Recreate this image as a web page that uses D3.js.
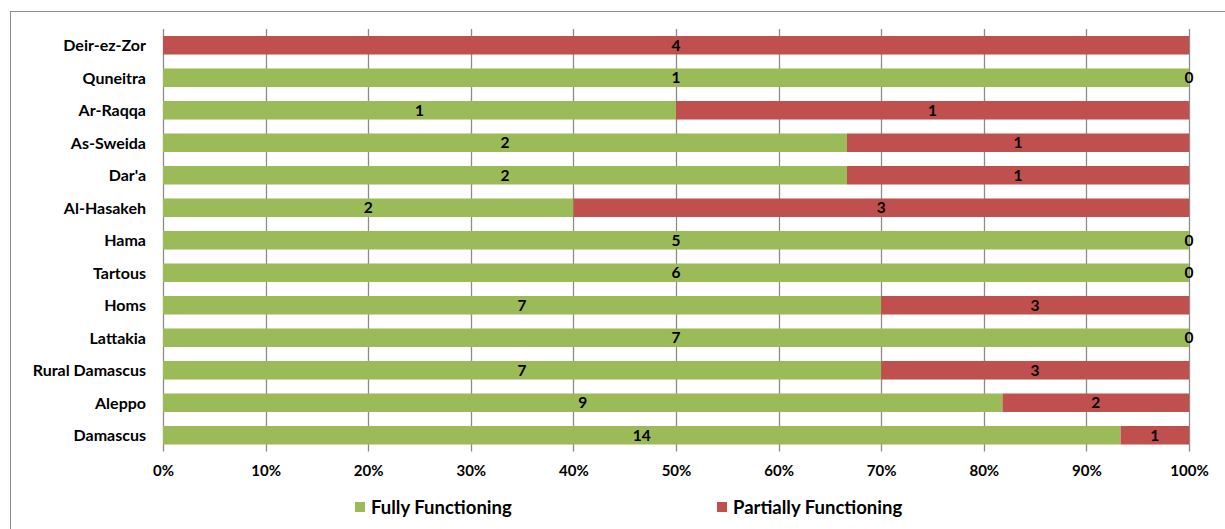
<!DOCTYPE html>
<html>
<head>
<meta charset="utf-8">
<script src="https://cdn.jsdelivr.net/npm/d3@7"></script>
<style>
  html, body { margin: 0; padding: 0; background: #fff; }
  svg { display: block; }
  text { font-family: Lato, "Open Sans", sans-serif; font-weight: bold; fill: #000; }
</style>
</head>
<body>
<svg id="chart" width="1225" height="529"></svg>
<script>
// Governorates, top to bottom
const governorates = ["Deir-ez-Zor", "Quneitra", "Ar-Raqqa", "As-Sweida", "Dar'a", "Al-Hasakeh",
  "Hama", "Tartous", "Homs", "Lattakia", "Rural Damascus", "Aleppo", "Damascus"];
// Counts of facilities per status
const fullyFunctioning     = [0, 1, 1, 2, 2, 2, 5, 6, 7, 7, 7, 9, 14];
const partiallyFunctioning = [4, 0, 1, 1, 1, 3, 0, 0, 3, 0, 3, 2, 1];
const seriesNames = ["Fully Functioning", "Partially Functioning"];
const seriesColors = ["#9BBB59", "#C0504D"];
const tickValues = [0, 0.1, 0.2, 0.3, 0.4, 0.5, 0.6, 0.7, 0.8, 0.9, 1];

const svg = d3.select("#chart");
const W = 1225, H = 529;
const margin = { left: 163, right: 36, top: 29, bottom: 77.5 };

// Outer frame
svg.append("rect").attr("x", 10.5).attr("y", 11.5).attr("width", W + 10).attr("height", H + 10)
  .attr("fill", "none").attr("stroke", "#8c8c8c").attr("stroke-width", 1);

const x = d3.scaleLinear().domain([0, 1]).range([margin.left, W - margin.right]);
const y = d3.scaleBand().domain(governorates).range([margin.top, H - margin.bottom])
  .paddingInner(0.43).paddingOuter(0.215);

const rows = governorates.map((g, i) => {
  const f = fullyFunctioning[i], p = partiallyFunctioning[i], t = f + p;
  return { name: g, full: f, partial: p, total: t };
});

// Vertical gridlines
svg.append("g").selectAll("line").data(tickValues).join("line")
  .attr("x1", d => Math.round(x(d)) + 0.5).attr("x2", d => Math.round(x(d)) + 0.5)
  .attr("y1", margin.top).attr("y2", H - margin.bottom)
  .attr("stroke", "#8c8c8c").attr("stroke-width", 1.3);

// Stacked 100% bars
const stack = d3.stack().keys(["full", "partial"]).offset(d3.stackOffsetExpand);
const layers = stack(rows);

const gBars = svg.append("g");
layers.forEach((layer, li) => {
  gBars.append("g").selectAll("rect").data(layer).join("rect")
    .attr("x", d => x(d[0]))
    .attr("width", d => x(d[1]) - x(d[0]))
    .attr("y", d => y(d.data.name))
    .attr("height", y.bandwidth())
    .attr("fill", seriesColors[li]);
});

// Value labels centered on each segment
layers.forEach((layer, li) => {
  const key = layer.key;
  svg.append("g").selectAll("text")
    .data(layer.filter(d => key === "partial" || d.data[key] > 0))
    .join("text")
    .attr("x", d => x((d[0] + d[1]) / 2))
    .attr("y", d => y(d.data.name) + y.bandwidth() / 2)
    .attr("dy", "0.36em")
    .attr("text-anchor", "middle")
    .attr("font-size", 15.5)
    .text(d => d.data[key]);
});

// Category axis labels
svg.append("g").selectAll("text").data(governorates).join("text")
  .attr("x", 146)
  .attr("y", d => y(d) + y.bandwidth() / 2)
  .attr("dy", "0.36em")
  .attr("text-anchor", "end")
  .attr("font-size", 16)
  .text(d => d);

// Percentage axis
const xAxis = d3.axisBottom(x).tickValues(tickValues).tickFormat(d3.format(".0%")).tickSize(0).tickPadding(14);
const gx = svg.append("g").attr("transform", `translate(0,${H - margin.bottom})`).call(xAxis);
gx.select(".domain").remove();
gx.selectAll("text").attr("font-size", 15).attr("font-family", "Lato, sans-serif").attr("font-weight", "bold").attr("fill", "#000");

// Legend
const legendX = [355, 717];
const legend = svg.append("g").selectAll("g").data(seriesNames).join("g")
  .attr("transform", (d, i) => `translate(${legendX[i]},502)`);
legend.append("rect").attr("x", 0).attr("y", 0).attr("width", 10).attr("height", 10)
  .attr("fill", (d, i) => seriesColors[i]);
legend.append("text").attr("x", 16).attr("y", 5).attr("dy", "0.36em")
  .attr("font-size", 18.5).text(d => d);
</script>
</body>
</html>
